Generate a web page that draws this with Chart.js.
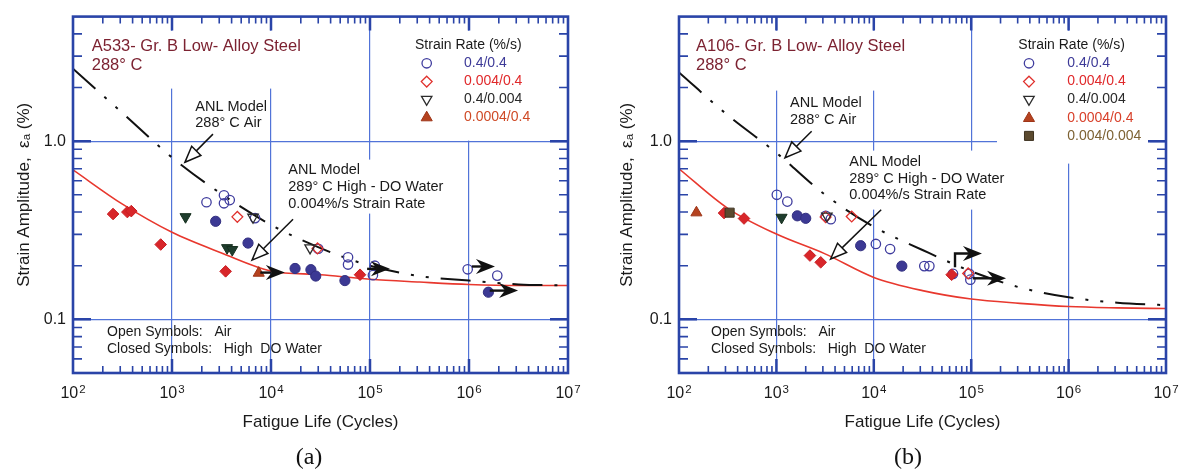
<!DOCTYPE html>
<html>
<head>
<meta charset="utf-8">
<script src="https://cdn.jsdelivr.net/npm/chart.js@4.4.1/dist/chart.umd.min.js"></script>
<style>
  body { margin: 0; background: #fff; }
  .wrap { display: flex; width: 1180px; height: 475px; }
  canvas { display: block; }
</style>
</head>
<body>
<div class="wrap">
  <canvas id="chartA" width="590" height="475"></canvas>
  <canvas id="chartB" width="590" height="475"></canvas>
</div>
<script>
// Valores: [ciclos, amplitud de deformacion %]
const curveN = [100, 316, 1000, 3162, 10000, 31623, 100000, 316228, 1000000, 3162278, 10000000];
const airModelA = [2.55, 1.44, 0.81, 0.505, 0.339, 0.251, 0.2, 0.175, 0.165, 0.157, 0.155];
const waterModelA = [0.69, 0.443, 0.308, 0.236, 0.187, 0.178, 0.168, 0.162, 0.157, 0.155, 0.155];
const airModelB = [2.43, 1.40, 0.86, 0.50, 0.331, 0.245, 0.186, 0.151, 0.133, 0.124, 0.12];
const waterModelB = [0.70, 0.42, 0.301, 0.233, 0.172, 0.145, 0.13, 0.123, 0.118, 0.116, 0.115];

// Panel (a) A533
const a_circleAir = [[2230,0.454],[3350,0.497],[3830,0.467],[3350,0.448],[6900,0.37],[30000,0.249],[60000,0.223],[60000,0.203],[112000,0.2],[107000,0.177],[970000,0.191],[1930000,0.176]];
const a_circleWater = [[2760,0.355],[5860,0.268],[17500,0.193],[25300,0.19],[28300,0.175],[55800,0.165],[1570000,0.142]];
const a_diamondAir = [[4570,0.376],[29500,0.25]];
const a_diamondWater = [[254,0.39],[354,0.40],[388,0.405],[769,0.263],[3480,0.186],[79300,0.178]];
const a_triDownAir = [[6580,0.374],[24800,0.252]];
const a_triDownWater = [[1370,0.376],[3600,0.252],[4060,0.246]];
const a_triUpWater = [[7520,0.182]];
const a_runouts = [[7800,13800,0.183],[93500,159000,0.192],[1070000,1830000,0.198],[1620000,3130000,0.145]];
const a_pointers = [[2594,1.095,1352,0.762],[16700,0.365,6430,0.215]];

// Panel (b) A106
const b_circleAir = [[1010,0.50],[1295,0.458],[3210,0.381],[3620,0.365],[10500,0.265],[14700,0.248],[33000,0.199],[37200,0.199],[65000,0.18],[95700,0.18],[98000,0.167]];
const b_circleWater = [[1640,0.381],[2000,0.369],[7330,0.259],[19400,0.199]];
const b_diamondAir = [[3200,0.375],[5930,0.378],[93000,0.181]];
const b_diamondWater = [[290,0.395],[465,0.368],[2210,0.228],[2850,0.209],[63000,0.178]];
const b_triDownAir = [[3300,0.38]];
const b_triDownWater = [[1130,0.373]];
const b_triUpWater = [[151,0.397]];
const b_squareWater = [[331,0.397]];
const b_runouts = [[104000,228000,0.17]];
const b_bentRunout = [[68200,0.196],[68200,0.234],[129000,0.234]];
const b_pointers = [[2300,1.137,1225,0.807],[11900,0.412,3600,0.218]];

// Marcas de los ejes
const xTickVals = [];
for (let d = 2; d < 7; d++) for (let k = 1; k < 10; k++) xTickVals.push(k * Math.pow(10, d));
xTickVals.push(10000000);
const yTickVals = [5,6,7,8,9].map(k => k / 100).concat([1,2,3,4,5,6,7,8,9].map(k => k / 10), [1,2,3,4,5]);
const yLabels = {'1': '1.0', '0.1': '0.1'};

const FRAME = '#2a44a8';
const GRID = '#5173d8';
const FONT = '"Liberation Sans", Arial, Helvetica, sans-serif';
const TITLE_RED = '#7c2231';

// Estilos de simbolos
const styles = {
  circleAir:    { shape: 'circle',   r: 4.7, rot: 0,   fill: 'rgba(0,0,0,0)', stroke: '#3f3c9e', bw: 1.3 },
  circleWater:  { shape: 'circle',   r: 5.1, rot: 0,   fill: '#3c3994', stroke: '#322f80', bw: 1 },
  diamondAir:   { shape: 'rectRot',  r: 5.4, rot: 0,   fill: 'rgba(0,0,0,0)', stroke: '#e0302c', bw: 1.3 },
  diamondWater: { shape: 'rectRot',  r: 5.8, rot: 0,   fill: '#d8262a', stroke: '#c81e22', bw: 1 },
  triDownAir:   { shape: 'triangle', r: 6,   rot: 180, fill: 'rgba(0,0,0,0)', stroke: '#2c2c2c', bw: 1.3 },
  triDownWater: { shape: 'triangle', r: 6.4, rot: 180, fill: '#1f3d2e', stroke: '#17301f', bw: 1 },
  triUpWater:   { shape: 'triangle', r: 6.4, rot: 0,   fill: '#b5421f', stroke: '#9e3518', bw: 1 },
  squareWater:  { shape: 'rect',     r: 6.4, rot: 0,   fill: '#5b4a2f', stroke: '#3d3220', bw: 1 }
};

function decade(v) {
  const l = Math.log10(v);
  return Math.abs(l - Math.round(l)) < 1e-6;
}

function pointSet(key, pts) {
  const s = styles[key];
  return {
    data: pts.map(p => ({ x: p[0], y: p[1] })),
    showLine: false,
    pointStyle: s.shape,
    pointRotation: s.rot,
    pointRadius: s.r,
    pointHoverRadius: s.r,
    pointBackgroundColor: s.fill,
    pointBorderColor: s.stroke,
    pointBorderWidth: s.bw
  };
}

function curveSet(vals, air) {
  return {
    data: curveN.map((n, i) => ({ x: n, y: vals[i] })),
    showLine: true,
    pointRadius: 0,
    borderColor: air ? '#111' : '#e8382e',
    borderWidth: air ? 2 : 1.6,
    borderDash: air ? [30, 12, 3, 12, 3, 12] : [],
    borderCapStyle: 'butt',
    cubicInterpolationMode: 'monotone',
    fill: false
  };
}

// Dibuja un simbolo de la leyenda
function marker(ctx, key, x, y) {
  const s = styles[key];
  ctx.save();
  ctx.lineWidth = s.bw;
  ctx.strokeStyle = s.stroke;
  ctx.fillStyle = s.fill;
  ctx.beginPath();
  const r = s.r;
  if (s.shape === 'circle') {
    ctx.arc(x, y, r, 0, Math.PI * 2);
  } else if (s.shape === 'rectRot') {
    ctx.moveTo(x, y - r); ctx.lineTo(x + r, y); ctx.lineTo(x, y + r); ctx.lineTo(x - r, y); ctx.closePath();
  } else if (s.shape === 'rect') {
    const h = r * Math.SQRT1_2;
    ctx.rect(x - h, y - h, 2 * h, 2 * h);
  } else {
    let a = s.rot * Math.PI / 180;
    for (let i = 0; i < 3; i++) {
      const px = x + Math.sin(a) * r, py = y - Math.cos(a) * r;
      if (i === 0) ctx.moveTo(px, py); else ctx.lineTo(px, py);
      a += 2 * Math.PI / 3;
    }
    ctx.closePath();
  }
  ctx.fill();
  ctx.stroke();
  ctx.restore();
}

// Flecha de modelo (cabeza abierta)
function pointer(ctx, x1, y1, x2, y2) {
  const ang = Math.atan2(y2 - y1, x2 - x1);
  const L = 16, W = 6.5;
  const bx = x2 - L * Math.cos(ang), by = y2 - L * Math.sin(ang);
  ctx.save();
  ctx.strokeStyle = '#111';
  ctx.lineWidth = 1.5;
  ctx.beginPath(); ctx.moveTo(x1, y1); ctx.lineTo(bx, by); ctx.stroke();
  ctx.beginPath();
  ctx.moveTo(x2, y2);
  ctx.lineTo(bx + W * Math.sin(ang), by - W * Math.cos(ang));
  ctx.lineTo(bx - W * Math.sin(ang), by + W * Math.cos(ang));
  ctx.closePath();
  ctx.fillStyle = '#fff';
  ctx.fill();
  ctx.stroke();
  ctx.restore();
}

// Flecha de ensayo sin rotura (cabeza negra)
function runArrow(ctx, pts) {
  const n = pts.length;
  const [x2, y2] = pts[n - 1];
  const [x1, y1] = pts[n - 2];
  const ang = Math.atan2(y2 - y1, x2 - x1);
  const L = 19, W = 7.5, notch = 6;
  ctx.save();
  ctx.strokeStyle = '#111';
  ctx.fillStyle = '#111';
  ctx.lineWidth = 2.4;
  ctx.beginPath();
  ctx.moveTo(pts[0][0], pts[0][1]);
  for (let i = 1; i < n - 1; i++) ctx.lineTo(pts[i][0], pts[i][1]);
  ctx.lineTo(x2 - (L - notch) * Math.cos(ang), y2 - (L - notch) * Math.sin(ang));
  ctx.stroke();
  const bx = x2 - L * Math.cos(ang), by = y2 - L * Math.sin(ang);
  ctx.beginPath();
  ctx.moveTo(x2, y2);
  ctx.lineTo(bx + W * Math.sin(ang), by - W * Math.cos(ang));
  ctx.lineTo(x2 - (L - notch) * Math.cos(ang), y2 - (L - notch) * Math.sin(ang));
  ctx.lineTo(bx - W * Math.sin(ang), by + W * Math.cos(ang));
  ctx.closePath();
  ctx.fill();
  ctx.restore();
}

function decor(spec) {
  return {
    id: 'decor',
    beforeDatasetsDraw(chart) {
      const { ctx, chartArea: a } = chart;
      ctx.save();
      ctx.fillStyle = '#fff';
      spec.boxes.forEach(b => ctx.fillRect(a.left + b[0], a.top + b[1], b[2], b[3]));
      ctx.restore();
    },
    afterDatasetsDraw(chart) {
      const { ctx, chartArea: a } = chart;
      const X = v => chart.scales.x.getPixelForValue(v);
      const Y = v => chart.scales.y.getPixelForValue(v);

      spec.pointers.forEach(p => pointer(ctx, X(p[0]), Y(p[1]), X(p[2]), Y(p[3])));
      spec.runouts.forEach(r => runArrow(ctx, [[X(r[0]), Y(r[2])], [X(r[1]), Y(r[2])]]));
      if (spec.bent) runArrow(ctx, spec.bent.map(p => [X(p[0]), Y(p[1])]));

      ctx.save();
      ctx.textBaseline = 'middle';
      ctx.textAlign = 'left';
      spec.texts.forEach(t => {
        ctx.font = (t.size || 14.5) + 'px ' + FONT;
        ctx.fillStyle = t.color || '#1a1a1a';
        ctx.fillText(t.text, a.left + t.x, a.top + t.y);
      });

      // leyenda
      const lg = spec.legend;
      ctx.font = '14px ' + FONT;
      ctx.fillStyle = '#1a1a1a';
      ctx.fillText('Strain Rate (%/s)', a.left + lg.x, a.top + lg.titleY);
      lg.items.forEach((it, i) => {
        const y = a.top + lg.rows[i];
        marker(ctx, it[0], a.left + lg.symX, y);
        ctx.fillStyle = it[2];
        ctx.fillText(it[1], a.left + lg.textX, y);
      });
      ctx.restore();
    },
    afterDraw(chart) {
      const { ctx, chartArea: a } = chart;
      const xs = chart.scales.x, ys = chart.scales.y;
      ctx.save();
      ctx.strokeStyle = FRAME;
      xTickVals.forEach(v => {
        if (v === 100 || v === 10000000) return;
        const px = xs.getPixelForValue(v);
        const major = decade(v);
        const len = major ? 14 : 7;
        ctx.lineWidth = major ? 2.5 : 1.6;
        ctx.beginPath();
        ctx.moveTo(px, a.bottom); ctx.lineTo(px, a.bottom - len);
        ctx.moveTo(px, a.top); ctx.lineTo(px, a.top + len);
        ctx.stroke();
      });
      yTickVals.forEach(v => {
        if (v === 0.05 || v === 5) return;
        const py = ys.getPixelForValue(v);
        const major = decade(v);
        const len = major ? 18 : 9;
        ctx.lineWidth = major ? 2.5 : 1.6;
        ctx.beginPath();
        ctx.moveTo(a.left, py); ctx.lineTo(a.left + len, py);
        ctx.moveTo(a.right, py); ctx.lineTo(a.right - len, py);
        ctx.stroke();
      });
      ctx.lineWidth = 2.6;
      ctx.strokeRect(a.left, a.top, a.right - a.left, a.bottom - a.top);

      // etiquetas 10^n del eje x, con exponente elevado
      ctx.fillStyle = '#1a1a1a';
      ctx.textBaseline = 'alphabetic';
      ctx.textAlign = 'left';
      xTickVals.filter(decade).forEach(v => {
        const px = xs.getPixelForValue(v);
        const e = String(Math.round(Math.log10(v)));
        ctx.font = '16px ' + FONT;
        const wb = ctx.measureText('10').width;
        ctx.font = '11.5px ' + FONT;
        const we = ctx.measureText(e).width;
        const x0 = px - (wb + 1 + we) / 2;
        ctx.font = '16px ' + FONT;
        ctx.fillText('10', x0, 398);
        ctx.font = '11.5px ' + FONT;
        ctx.fillText(e, x0 + wb + 1, 393);
      });

      ctx.font = '24px "Liberation Serif", "Times New Roman", serif';
      ctx.fillStyle = '#111';
      ctx.textAlign = 'center';
      ctx.textBaseline = 'middle';
      ctx.fillText(spec.label, a.left + spec.labelX, 458);
      ctx.restore();
    }
  };
}

function makeChart(id, spec) {
  const ctx = document.getElementById(id).getContext('2d');
  return new Chart(ctx, {
    type: 'scatter',
    data: { datasets: spec.datasets },
    options: {
      responsive: false,
      animation: false,
      events: [],
      layout: { padding: { left: 0, right: spec.padRight, top: 14, bottom: 0 } },
      plugins: { legend: { display: false }, tooltip: { enabled: false } },
      scales: {
        x: {
          type: 'logarithmic',
          position: 'bottom',
          min: 100,
          max: 10000000,
          afterBuildTicks: s => { s.ticks = xTickVals.map(v => ({ value: v })); },
          afterFit: s => { s.height = 102; },
          grid: {
            color: c => (c.tick && decade(c.tick.value)) ? GRID : 'rgba(0,0,0,0)',
            lineWidth: 1.2,
            drawTicks: false
          },
          border: { display: false },
          ticks: {
            autoSkip: false,
            maxRotation: 0,
            padding: 10,
            color: '#1a1a1a',
            font: { family: FONT, size: 16 },
            callback: () => ''
          },
          title: {
            display: true,
            text: 'Fatigue Life (Cycles)',
            color: '#1a1a1a',
            font: { family: FONT, size: 17 },
            padding: { top: 0, bottom: 42 }
          }
        },
        y: {
          type: 'logarithmic',
          position: 'left',
          min: 0.05,
          max: 5,
          afterBuildTicks: s => { s.ticks = yTickVals.map(v => ({ value: v })); },
          afterFit: s => { s.width = spec.yWidth; },
          grid: {
            color: c => (c.tick && decade(c.tick.value)) ? GRID : 'rgba(0,0,0,0)',
            lineWidth: 1.2,
            drawTicks: false
          },
          border: { display: false },
          ticks: {
            autoSkip: false,
            padding: 7,
            color: '#1a1a1a',
            font: { family: FONT, size: 16 },
            callback: v => yLabels[String(+(+v).toPrecision(6))] || ''
          },
          title: {
            display: true,
            text: 'Strain Amplitude,  \u03b5\u2090 (%)',
            color: '#1a1a1a',
            font: { family: FONT, size: 17 },
            padding: { top: spec.yTitlePad, bottom: 0 }
          }
        }
      }
    },
    plugins: [decor(spec)]
  });
}

makeChart('chartA', {
  padRight: 22,
  yWidth: 73,
  yTitlePad: 14,
  label: '(a)',
  labelX: 236,
  datasets: [
    pointSet('triUpWater', a_triUpWater),
    pointSet('triDownWater', a_triDownWater),
    pointSet('triDownAir', a_triDownAir),
    pointSet('diamondAir', a_diamondAir),
    pointSet('diamondWater', a_diamondWater),
    pointSet('circleWater', a_circleWater),
    pointSet('circleAir', a_circleAir),
    curveSet(airModelA, true),
    curveSet(waterModelA, false)
  ],
  pointers: a_pointers,
  runouts: a_runouts,
  bent: null,
  boxes: [[15, 14, 222, 58], [117, 80, 80, 33], [212, 143, 165, 54], [332, 14, 135, 110]],
  texts: [
    { text: 'A533- Gr. B Low- Alloy Steel', x: 18.7, y: 30, size: 16.5, color: TITLE_RED },
    { text: '288\u00b0 C', x: 18.7, y: 48.5, size: 16.5, color: TITLE_RED },
    { text: 'ANL Model', x: 122.3, y: 90 },
    { text: '288\u00b0 C Air', x: 122.3, y: 106.5 },
    { text: 'ANL Model', x: 215.3, y: 153.5 },
    { text: '289\u00b0 C High - DO Water', x: 215.3, y: 170 },
    { text: '0.004%/s Strain Rate', x: 215.3, y: 187 },
    { text: 'Open Symbols:   Air', x: 34, y: 316, size: 14 },
    { text: 'Closed Symbols:   High  DO Water', x: 34, y: 333, size: 14 }
  ],
  legend: {
    x: 342, titleY: 28.3, symX: 353.7, textX: 391,
    rows: [46.7, 65, 82.7, 101],
    items: [
      ['circleAir', '0.4/0.4', '#3d3a98'],
      ['diamondAir', '0.004/0.4', '#e0282a'],
      ['triDownAir', '0.4/0.004', '#2a2a2a'],
      ['triUpWater', '0.0004/0.4', '#cf4a26']
    ]
  }
});

makeChart('chartB', {
  padRight: 14,
  yWidth: 89,
  yTitlePad: 27,
  label: '(b)',
  labelX: 229,
  datasets: [
    pointSet('squareWater', b_squareWater),
    pointSet('triUpWater', b_triUpWater),
    pointSet('triDownWater', b_triDownWater),
    pointSet('triDownAir', b_triDownAir),
    pointSet('diamondAir', b_diamondAir),
    pointSet('diamondWater', b_diamondWater),
    pointSet('circleWater', b_circleWater),
    pointSet('circleAir', b_circleAir),
    curveSet(airModelB, true),
    curveSet(waterModelB, false)
  ],
  pointers: b_pointers,
  runouts: b_runouts,
  bent: b_bentRunout,
  boxes: [[11, 14, 225, 60], [106, 74, 85, 39], [166, 134, 165, 59], [318, 14, 153, 133]],
  texts: [
    { text: 'A106- Gr. B Low- Alloy Steel', x: 17, y: 30, size: 16.5, color: TITLE_RED },
    { text: '288\u00b0 C', x: 17, y: 48.5, size: 16.5, color: TITLE_RED },
    { text: 'ANL Model', x: 111, y: 86.5 },
    { text: '288\u00b0 C Air', x: 111, y: 103 },
    { text: 'ANL Model', x: 170.3, y: 145.5 },
    { text: '289\u00b0 C High - DO Water', x: 170.3, y: 162 },
    { text: '0.004%/s Strain Rate', x: 170.3, y: 178.5 },
    { text: 'Open Symbols:   Air', x: 32, y: 316, size: 14 },
    { text: 'Closed Symbols:   High  DO Water', x: 32, y: 333, size: 14 }
  ],
  legend: {
    x: 339.3, titleY: 29, symX: 350, textX: 388.3,
    rows: [46.7, 65, 82.7, 101.7, 119.3],
    items: [
      ['circleAir', '0.4/0.4', '#3d3a98'],
      ['diamondAir', '0.004/0.4', '#e0282a'],
      ['triDownAir', '0.4/0.004', '#2a2a2a'],
      ['triUpWater', '0.0004/0.4', '#d8402a'],
      ['squareWater', '0.004/0.004', '#7d6233']
    ]
  }
});
</script>
</body>
</html>
